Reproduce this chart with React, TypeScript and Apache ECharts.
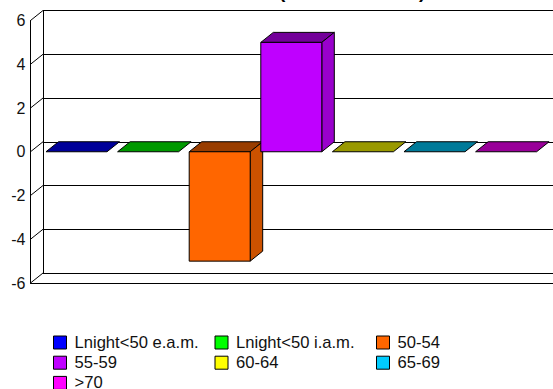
import React, { useEffect, useRef } from "react";
import * as echarts from "echarts";

const categories = ["Lnight<50 e.a.m.", "Lnight<50 i.a.m.", "50-54", "55-59", "60-64", "65-69", ">70"];
const values = [0, 0, -5, 5, 0, 0, 0];
const frontColors = ["#0000ff", "#00ff00", "#ff6600", "#bf00ff", "#ffff00", "#00ccff", "#ff00ff"];
const topColors = ["#000099", "#009900", "#993d00", "#730099", "#999900", "#007a99", "#990099"];
const sideColors = ["#0000cc", "#00cc00", "#cc5200", "#9900cc", "#cccc00", "#00a3cc", "#cc00cc"];
const yTicks = [-6, -4, -2, 0, 2, 4, 6];
const titleParts = ["(", ")"];

const DEPTH_X = 12.5;
const DEPTH_Y = 10;

function renderBar(i: number) {
  return (params: any, api: any) => {
    const c = api.coord([api.value(0), api.value(1)]);
    const base = api.coord([api.value(0), 0]);
    const w = api.size([1, 0])[0] * 0.852;
    const l = c[0] - w / 2;
    const r = c[0] + w / 2;
    const hi = Math.min(c[1], base[1]);
    const lo = Math.max(c[1], base[1]);
    const line = { stroke: "#000", lineWidth: 1 };
    const children: any[] = [
      {
        type: "polygon",
        shape: { points: [[l, hi], [r, hi], [r + DEPTH_X, hi - DEPTH_Y], [l + DEPTH_X, hi - DEPTH_Y]] },
        style: { fill: topColors[i], ...line },
      },
    ];
    if (lo > hi) {
      children.push(
        {
          type: "polygon",
          shape: { points: [[r, hi], [r + DEPTH_X, hi - DEPTH_Y], [r + DEPTH_X, lo - DEPTH_Y], [r, lo]] },
          style: { fill: sideColors[i], ...line },
        },
        {
          type: "rect",
          shape: { x: l, y: hi, width: r - l, height: lo - hi },
          style: { fill: frontColors[i], ...line },
        }
      );
    }
    return { type: "group", children };
  };
}

function renderTick(params: any, api: any) {
  const p = api.coord([0, api.value(0)]);
  const x = params.coordSys.x;
  return {
    type: "line",
    shape: { x1: x, y1: p[1], x2: x + DEPTH_X, y2: p[1] - DEPTH_Y },
    style: { stroke: "#000", lineWidth: 1 },
  };
}

export default function App() {
  const ref = useRef<HTMLDivElement>(null);
  useEffect(() => {
    const chart = echarts.init(ref.current!, null, { renderer: "svg" });
    const font = "'Liberation Sans', Arial, sans-serif";
    const axisY = { type: "value", min: -6, max: 6, interval: 2 };
    chart.setOption({
      animation: false,
      backgroundColor: "#fff",
      title: titleParts.map((t, i) => ({
        text: t,
        left: i === 0 ? 279 : 419,
        top: -18,
        padding: 0,
        textStyle: { fontFamily: font, fontSize: 19, fontWeight: "bold", color: "#000" },
      })),
      legend: categories.map((name, i) => ({
        data: [name],
        left: 53 + (i % 3) * 161.5,
        top: 334 + Math.floor(i / 3) * 20.2,
        padding: 0,
        selectedMode: false,
        icon: "rect",
        itemWidth: 13,
        itemHeight: 13,
        itemGap: 0,
        textStyle: { fontFamily: font, fontSize: 16.6, color: "#111", padding: [0, 0, 0, 3] },
        itemStyle: { borderColor: "#000", borderWidth: 1 },
      })),
      grid: [
        { left: 43, right: 0, top: 10.5, height: 262.5 },
        { left: 30.5, right: 0, top: 20.5, height: 262.5 },
        { left: 40.7, width: 501.2, top: 20.5, height: 262.5 },
      ],
      xAxis: [
        { gridIndex: 0, type: "value", min: 0, max: 1, axisLine: { show: false }, axisTick: { show: false }, axisLabel: { show: false }, splitLine: { show: false } },
        {
          gridIndex: 1,
          type: "value",
          min: 0,
          max: 1,
          axisLine: { show: true, onZero: false, lineStyle: { color: "#000", width: 1 } },
          axisTick: { show: false },
          axisLabel: { show: false },
          splitLine: { show: false },
        },
        { gridIndex: 2, type: "category", data: categories, show: false },
      ],
      yAxis: [
        {
          ...axisY,
          gridIndex: 0,
          axisLine: { show: true, lineStyle: { color: "#000", width: 1 } },
          axisTick: { show: false },
          axisLabel: { show: false },
          splitLine: { show: true, lineStyle: { color: "#000", width: 1 } },
        },
        {
          ...axisY,
          gridIndex: 1,
          axisLine: { show: true, lineStyle: { color: "#000", width: 1 } },
          axisTick: { show: false },
          axisLabel: { show: true, margin: 5, fontFamily: font, fontSize: 16, color: "#111" },
          splitLine: { show: false },
        },
        { ...axisY, gridIndex: 2, show: false, splitLine: { show: false } },
      ],
      series: [
        {
          type: "custom",
          silent: true,
          xAxisIndex: 1,
          yAxisIndex: 1,
          data: yTicks.map((v) => [v]),
          encode: { y: 0 },
          renderItem: renderTick,
          z: 1,
        },
        ...categories.map((name, i) => ({
          type: "custom",
          name,
          xAxisIndex: 2,
          yAxisIndex: 2,
          itemStyle: { color: frontColors[i] },
          data: [[name, values[i]]],
          encode: { x: 0, y: 1 },
          renderItem: renderBar(i),
          z: 2 + i,
        })),
      ],
    });
    return () => chart.dispose();
  }, []);
  return <div ref={ref} style={{ position: "fixed", left: 0, top: 0, width: 553, height: 389 }} />;
}
